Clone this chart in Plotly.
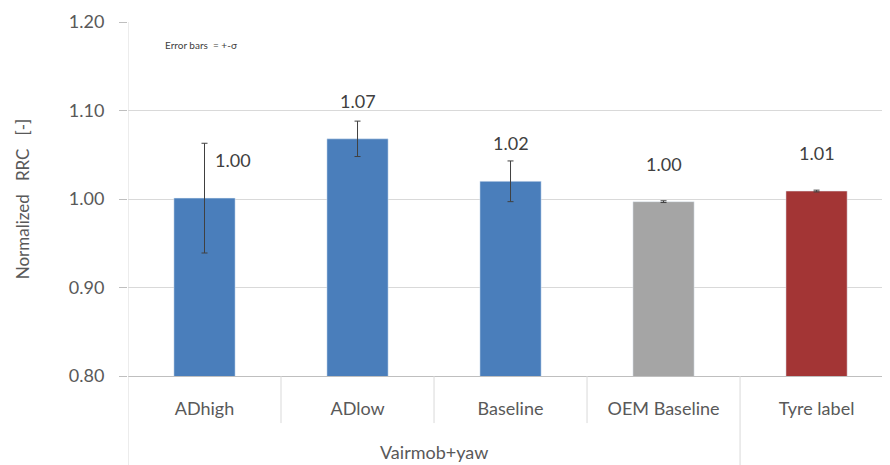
import plotly.graph_objects as go

categories = ["ADhigh", "ADlow", "Baseline", "OEM Baseline", "Tyre label"]
values = [1.001, 1.068, 1.020, 0.997, 1.009]
errors = [0.062, 0.020, 0.023, 0.001, 0.001]
labels = ["1.00", "1.07", "1.02", "1.00", "1.01"]
colors = ["#4A7EBB", "#4A7EBB", "#4A7EBB", "#A5A5A5", "#A33535"]
group_label = "Vairmob+yaw"
y_ticks = [0.80, 0.90, 1.00, 1.10, 1.20]

font = "Lato, 'Open Sans', sans-serif"
grey_txt = "#595959"
NB = "\u00a0"

fig = go.Figure()
fig.add_trace(go.Bar(
    x=categories, y=values, marker_color=colors, width=0.4,
    error_y=dict(type="data", array=errors, visible=True, color="#404040",
                 thickness=1, width=3),
    hoverinfo="x+y",
))

for i, (c, v, e, lab) in enumerate(zip(categories, values, errors, labels)):
    fig.add_annotation(x=c, y=v, text=lab, showarrow=False,
                       yshift=38, xshift=28 if i == 0 else 0,
                       font=dict(family=font, size=18, color="#404040"))

# category separators below the axis
for i in range(len(categories) - 1):
    fig.add_shape(type="line", xref="x", yref="paper", x0=i + 0.5, x1=i + 0.5,
                  y0=0, y1=-0.133 if i < 3 else -0.27,
                  line=dict(color="#D9D9D9", width=1))
fig.add_shape(type="line", xref="x", yref="paper", x0=-0.5, x1=-0.5,
              y0=1, y1=-0.27, line=dict(color="#D9D9D9", width=1))

fig.add_annotation(x=1.5, xref="x", y=-0.215, yref="paper", yanchor="middle",
                   text=group_label, showarrow=False,
                   font=dict(family=font, size=18, color=grey_txt))
fig.add_annotation(x=-0.27, xref="x", y=1.2, yref="y", yshift=-23,
                   text="Error bars  = +-σ", showarrow=False, xanchor="left",
                   font=dict(family=font, size=10, color="#404040"))

fig.update_layout(
    width=890, height=465,
    margin=dict(l=120, r=8, t=14, b=97),
    plot_bgcolor="white", paper_bgcolor="white",
    showlegend=False,
    bargap=0.6,
    xaxis=dict(range=[-0.5, 4.48], showgrid=False, showline=True, automargin=False,
               linecolor="#BFBFBF", ticks="", ticklabelstandoff=16,
               tickfont=dict(family=font, size=18, color=grey_txt),
               fixedrange=True),
    yaxis=dict(range=[0.80, 1.20], tickvals=y_ticks, automargin=False,
               ticktext=[f"{t:.2f}" for t in y_ticks],
               showgrid=True, gridcolor="#D9D9D9", zeroline=False,
               showline=False, ticks="outside", ticklen=8, tickcolor="#BFBFBF",
               ticklabelstandoff=11,
               tickfont=dict(family=font, size=18, color=grey_txt),
               title=dict(text=f"Normalized{NB}{NB} RRC{NB}{NB} [-]{NB}{NB}{NB}{NB}",
                          standoff=34,
                          font=dict(family=font, size=17, color=grey_txt))),
)

fig.write_html("out.html")
